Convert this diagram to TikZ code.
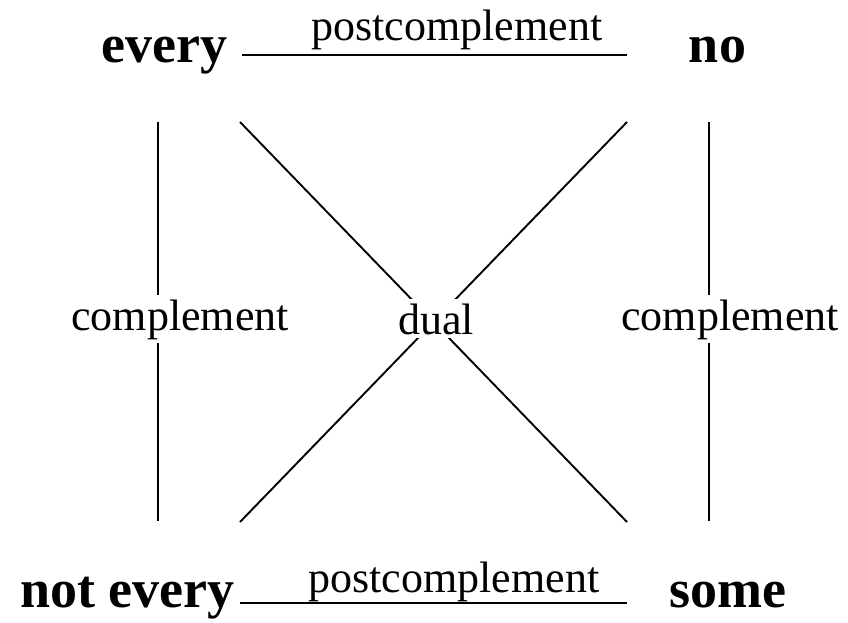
\documentclass[tikz,border=0pt]{standalone}
\usepackage{fontspec}
\setmainfont{Liberation Serif}
\usepackage{tikz}

\tikzset{
  quant/.style={anchor=base, inner sep=0pt, font=\fontsize{54}{60}\selectfont\bfseries},
  rel/.style={anchor=base, inner sep=0pt, font=\fontsize{44}{50}\selectfont},
  cutrel/.style={rel, fill=white, inner sep=4pt},
  edge/.style={line width=1.9pt}
}

\begin{document}
\begin{tikzpicture}[x=1pt,y=-1pt]
		\useasboundingbox (0,0) rectangle (848,623);
		
		% the four corners
		\node[quant] (every) at (164.5,63) {every};
		\node[quant] (no) at (717.5,63) {no};
		\node[quant] (notevery) at (127.5,607) {not every};
		\node[quant] (some) at (728,607) {some};
		
		% line ends
		\coordinate (ta) at (242,55);
		\coordinate (tb) at (627,55);
		\coordinate (ba) at (240,603);
		\coordinate (bb) at (627,603);
		\coordinate (la) at (158,122);
		\coordinate (lb) at (158,521);
		\coordinate (ra) at (709,122);
		\coordinate (rb) at (709,521);
		\coordinate (xa) at (240,122);
		\coordinate (xb) at (627,522);
		\coordinate (ya) at (627,122);
		\coordinate (yb) at (240,522);
		
		\draw[edge] (ta) -- (tb);
		\draw[edge] (ba) -- (bb);
		\draw[edge] (la) -- (lb);
		\draw[edge] (ra) -- (rb);
		\draw[edge] (xa) -- (xb);
		\draw[edge] (ya) -- (yb);
		
		% relations
		\node[rel] (post) at (457,41) {postcomplement};
		\node[rel] (postb) at (454,592) {postcomplement};
		\node[cutrel] (compl) at (180,330) {complement};
		\node[cutrel] (compr) at (730,330) {complement};
		\node[cutrel] (dual) at (436,334) {dual};
	\end{tikzpicture}
\end{document}
